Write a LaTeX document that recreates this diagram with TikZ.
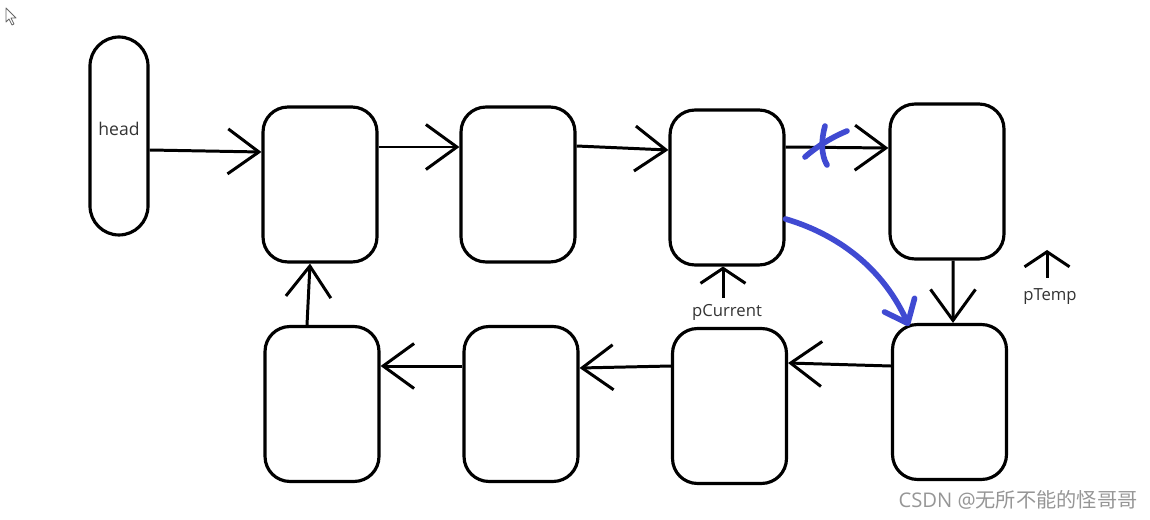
\documentclass[tikz,border=0pt]{standalone}
\usepackage{fontspec}
\setmainfont{Open Sans}
\newfontfamily\cjkFont{Noto Sans CJK SC}
\usetikzlibrary{positioning, arrows.meta}
\definecolor{inkBlue}{RGB}{64,74,210}
\definecolor{markGray}{RGB}{150,150,150}
\tikzstyle{board} = [x = 0.02cm, y = -0.02cm]
\tikzstyle{listNode} = [draw, line width=1.8pt, rounded corners=.5cm, minimum width=2.28cm, minimum height=3.1cm]
\tikzstyle{headNode} = [draw, line width=1.8pt, rounded corners=.58cm, minimum width=1.16cm, minimum height=3.96cm]
\tikzstyle{linkStyle} = [line width=1.7pt, -{Straight Barb[length=.62cm, width=.9cm, line width=1.7pt]}]
\tikzstyle{pointerStyle} = [line width=1.7pt, -{Straight Barb[length=.3cm, width=.9cm, line width=1.7pt]}]
\tikzstyle{pointerText} = [inner sep=0, font=\fontsize{9.5}{11}\selectfont, text=black!80]
\tikzstyle{inkStyle} = [color=inkBlue, line width=3.2pt, line cap=round, line join=round]
\newcommand{\link}[2]{\draw [linkStyle] (#1) -- (#2);}

\begin{document}
\begin{tikzpicture}[board]
  \useasboundingbox (0,0) rectangle (1150,520);
  % cursor
  \draw [black!60, line width=.5pt, line join=round] (6,8) -- (6,22) -- (9,19) -- (12,25) -- (14,24) -- (11,18) -- (16,18) -- cycle;
  % nodes
  \node [headNode] (head) at (119,136) {};
  \node [pointerText, font=\fontsize{10}{12}\selectfont] (headLabel) at (119,129) {head};
  \node [listNode] (box1) at (320,184.5) {};
  \node [listNode] (box2) at (518,184.5) {};
  \node [listNode] (box3) at (727,187.5) {};
  \node [listNode] (box4) at (947,181.5) {};
  \node [listNode] (box5) at (322,404) {};
  \node [listNode] (box6) at (521,404) {};
  \node [listNode] (box7) at (729.5,406) {};
  \node [listNode] (box8) at (949.5,402) {};
  % links
  \link{[yshift=-.28cm]head.east}{[yshift=.65cm]box1.west}
  \link{[yshift=.75cm]box1.east}{[yshift=.75cm]box2.west}
  \link{[yshift=.77cm]box2.east}{[yshift=.75cm]box3.west}
  \link{[yshift=.81cm]box3.east}{[yshift=.67cm]box4.west}
  \link{[xshift=.12cm]box4.south}{[xshift=.07cm]box8.north}
  \link{[yshift=.72cm]box8.west}{[yshift=.86cm]box7.east}
  \link{[yshift=.8cm]box7.west}{[yshift=.72cm]box6.east}
  \link{[yshift=.76cm]box6.west}{[yshift=.76cm]box5.east}
  \link{[xshift=-.3cm]box5.north}{[xshift=-.2cm]box1.south}
  % pointers
  \coordinate (pCurrentTail) at (723,298);
  \draw [pointerStyle] (pCurrentTail) -- (pCurrentTail |- box3.south);
  \node [pointerText, below=.12cm of pCurrentTail, xshift=.08cm] (pCurrent) {pCurrent};
  \coordinate (pTempTail) at (1047,278);
  \coordinate (pTempTip) at (1047,250);
  \draw [pointerStyle] (pTempTail) -- (pTempTip);
  \node [pointerText, below=.2cm of pTempTail, xshift=.06cm] (pTemp) {pTemp};
  % blue ink
  \draw [inkStyle] (805,157) .. controls (815,148) and (830,138) .. (847,131);
  \draw [inkStyle] (825,126) .. controls (821,140) and (821,155) .. (827,165);
  \draw [inkStyle, -{Straight Barb[length=.4cm, width=.66cm, line width=3.2pt, round]}] ([yshift=-.63cm]box3.east) .. controls (830,232) and (880,262) .. ([xshift=.36cm, yshift=-.06cm]box8.north west);
  % watermark
  \node [text=markGray, font=\fontsize{11.5}{14}\selectfont, inner sep=0] (mark) at (1018,500) {CSDN @{\cjkFont 无所不能的怪哥哥}};
\end{tikzpicture}
\end{document}
